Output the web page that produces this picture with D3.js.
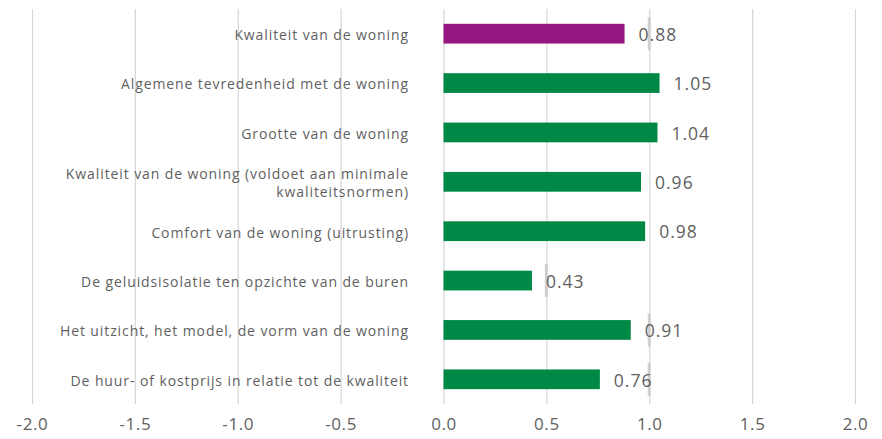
<!DOCTYPE html>
<html>
<head>
<meta charset="utf-8">
<script src="https://cdn.jsdelivr.net/npm/d3@7"></script>
<style>
  body { margin: 0; background: #fff; }
  svg text { font-family: "Open Sans", sans-serif; }
</style>
</head>
<body>
<svg id="chart" width="882" height="439"></svg>
<script>
// data
let categories = [
    'Kwaliteit van de woning',
    'Algemene tevredenheid met de woning',
    'Grootte van de woning',
    'Kwaliteit van de woning (voldoet aan minimale\nkwaliteitsnormen)',
    'Comfort van de woning (uitrusting)',
    'De geluidsisolatie ten opzichte van de buren',
    'Het uitzicht, het model, de vorm van de woning',
    'De huur- of kostprijs in relatie tot de kwaliteit'
]
let values = [0.88, 1.05, 1.04, 0.96, 0.98, 0.43, 0.91, 0.76]
let highlighted = ['Kwaliteit van de woning']
let tickValues = [-2.0, -1.5, -1.0, -0.5, 0.0, 0.5, 1.0, 1.5, 2.0]

let rows = categories.map((c, i) => ({ name: c, value: values[i] }))

let svg = d3.select('#chart')
let plotTop = 9, plotBottom = 404

let x = d3.scaleLinear().domain([-2, 2]).range([32, 855])
let y = d3.scaleBand()
    .domain(categories)
    .range([plotTop, plotBottom])
    .paddingInner(0.6)
    .paddingOuter(0.3)

// gridlines + tick labels
let axis = svg.append('g')
    .attr('transform', `translate(0, ${plotBottom})`)
    .call(d3.axisBottom(x)
        .tickValues(tickValues)
        .tickFormat(d3.format('.1f'))
        .tickSizeInner(-(plotBottom - plotTop))
        .tickSizeOuter(0)
        .tickPadding(14))
axis.select('.domain').remove()
axis.selectAll('.tick line')
    .attr('stroke', '#d6d6d6')
    .attr('stroke-width', 1.2)
axis.selectAll('.tick text')
    .attr('fill', '#5f5f5f')
    .attr('font-size', 17)
    .attr('letter-spacing', 0.6)
    .attr('font-family', '"Open Sans", sans-serif')
    .text(d => d3.format('.1f')(d).replace('−', '-'))

// bars
svg.selectAll('rect.bar')
    .data(rows)
    .enter()
    .append('rect')
    .attr('class', 'bar')
    .attr('x', x(0))
    .attr('y', d => y(d.name))
    .attr('width', d => x(d.value) - x(0))
    .attr('height', y.bandwidth())
    .attr('fill', d => highlighted.includes(d.name) ? '#93177e' : '#008847')

// category labels
let catLabels = svg.selectAll('text.cat')
    .data(rows)
    .enter()
    .append('text')
    .attr('class', 'cat')
    .attr('text-anchor', 'end')
    .attr('fill', '#5f5f5f')
    .attr('font-size', 14)
    .attr('letter-spacing', 0.9)
catLabels.each(function (d) {
    let lines = d.name.split('\n')
    let cy = y(d.name) + y.bandwidth() / 2 + 1.5
    let lh = 18
    lines.forEach((line, k) => {
        d3.select(this).append('tspan')
            .attr('x', 409)
            .attr('y', cy + (k - (lines.length - 1) / 2) * lh)
            .attr('dy', '0.35em')
            .text(line)
    })
})

// value labels, with the darker gridline piece where a label sits on a gridline
let valueGroup = svg.append('g')
let valLabels = valueGroup.selectAll('text.val')
    .data(rows)
    .enter()
    .append('text')
    .attr('class', 'val')
    .attr('x', d => x(d.value) + 14)
    .attr('y', d => y(d.name) + y.bandwidth() / 2 + 1)
    .attr('dy', '0.36em')
    .attr('fill', '#5f5f5f')
    .attr('font-size', 17.5)
    .attr('letter-spacing', 1)
    .text(d => d3.format('.2f')(d.value))

valLabels.each(function (d) {
    let x0 = x(d.value) + 12
    let x1 = x0 + this.getComputedTextLength() + 4
    let cy = y(d.name) + y.bandwidth() / 2
    tickValues.filter(t => x(t) >= x0 && x(t) <= x1).forEach(t => {
        valueGroup.insert('rect', 'text')
            .attr('x', x(t) - 1.5)
            .attr('y', cy - 16.5)
            .attr('width', 3)
            .attr('height', 33)
            .attr('fill', '#cfcfcf')
    })
})
</script>
</body>
</html>
